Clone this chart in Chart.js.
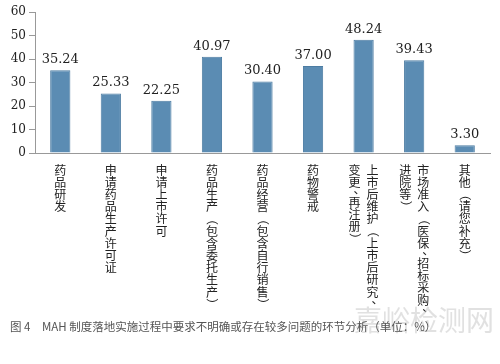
<!DOCTYPE html>
<html>
<head>
<meta charset="utf-8">
<script src="https://cdn.jsdelivr.net/npm/chart.js@4/dist/chart.umd.min.js"></script>
<style>
  html, body { margin: 0; padding: 0; background: #fff; }
  #wrap { width: 500px; height: 364px; position: relative; }
</style>
</head>
<body>
<div id="wrap"><canvas id="chartMah"></canvas></div>
<script>
// categories (each label is one or more vertical columns, read right to left)
var categories = [
  '药品研发',
  '申请药品生产许可证',
  '申请上市许可',
  '药品生产（包含委托生产）',
  '药品经营（包含自行销售）',
  '药物警戒',
  '上市后维护（上市后研究、变更、再注册）',
  '市场准入（医保、招标采购、进院等）',
  '其他（请您补充）'
];
var labelColumns = [
  ['药品研发'],
  ['申请药品生产许可证'],
  ['申请上市许可'],
  ['药品生产（包含委托生产）'],
  ['药品经营（包含自行销售）'],
  ['药物警戒'],
  ['上市后维护（上市后研究、', '变更、再注册）'],
  ['市场准入（医保、招标采购、', '进院等）'],
  ['其他（请您补充）']
];
var values = [35.24, 25.33, 22.25, 40.97, 30.40, 37.00, 48.24, 39.43, 3.30];
var yTicks = [0, 10, 20, 30, 40, 50, 60];
var caption = '图 4　MAH 制度落地实施过程中要求不明确或存在较多问题的环节分析（单位：%）';
var watermark = '嘉峪检测网';

var cjkFont = '"Noto Sans CJK SC", "Noto Sans", sans-serif';
var numFont = '"DejaVu Serif", "Liberation Serif", serif';

var extras = {
  id: 'extras',
  afterDatasetsDraw: function (chart) {
    var ctx = chart.ctx;
    var xs = chart.scales.x;
    var ys = chart.scales.y;
    ctx.save();

    // value labels above bars
    ctx.fillStyle = '#222';
    ctx.font = '13px ' + numFont;
    ctx.textAlign = 'center';
    ctx.textBaseline = 'bottom';
    values.forEach(function (v, i) {
      ctx.fillText(v.toFixed(2), xs.getPixelForValue(i), ys.getPixelForValue(v) - 4);
    });

    // vertical category labels
    ctx.font = '12px ' + cjkFont;
    ctx.fillStyle = '#222';
    ctx.textBaseline = 'middle';
    var pitch = 12.2, small = 8, colGap = 18, top = ys.bottom + 11;
    labelColumns.forEach(function (cols, i) {
      var cx = xs.getPixelForValue(i);
      var n = cols.length;
      cols.forEach(function (col, j) {
        var x = cx + ((n - 1) / 2 - j) * colGap;
        var y = top;
        var prev = 0;
        Array.from(col).forEach(function (ch) {
          var isBr = (ch === '（' || ch === '）');
          var isComma = (ch === '、');
          var adv = isComma ? small : pitch;
          y += (prev + adv) / 2;
          prev = adv;
          if (isBr) {
            ctx.save();
            ctx.translate(x, y);
            ctx.rotate(Math.PI / 2);
            ctx.fillText(ch, 0, 0);
            ctx.restore();
          } else if (isComma) {
            ctx.fillText(ch, x + 5, y - 3);
          } else {
            ctx.fillText(ch, x, y);
          }
        });
      });
    });

    // watermark
    ctx.textAlign = 'left';
    ctx.font = '28px ' + cjkFont;
    ctx.fillStyle = 'rgba(195,195,195,0.5)';
    ctx.fillText(watermark, 354, 320);

    // caption
    ctx.font = '11.5px ' + cjkFont;
    ctx.fillStyle = '#555';
    ctx.fillText(caption, 10, 327);
    ctx.restore();
  }
};

new Chart(document.getElementById('chartMah').getContext('2d'), {
  type: 'bar',
  data: {
    labels: categories,
    datasets: [{
      data: values,
      backgroundColor: '#5b8cb3',
      borderColor: '#4c7ca2',
      borderWidth: 1,
      categoryPercentage: 1,
      barPercentage: 0.4
    }]
  },
  options: {
    responsive: true,
    maintainAspectRatio: false,
    animation: false,
    layout: { padding: { top: 12, right: 10, left: 0, bottom: 0 } },
    plugins: {
      legend: { display: false },
      tooltip: { enabled: false }
    },
    scales: {
      x: {
        grid: { display: false },
        border: { color: '#999', width: 1 },
        ticks: { display: false },
        afterFit: function (s) { s.height = 211; }
      },
      y: {
        min: 0,
        max: 60,
        afterBuildTicks: function (s) { s.ticks = yTicks.map(function (v) { return { value: v }; }); },
        grid: { drawOnChartArea: false, color: '#999', tickLength: 6 },
        border: { color: '#999', width: 1 },
        ticks: { color: '#222', padding: 3, font: { family: numFont, size: 12 } },
        afterFit: function (s) { s.width = 35; }
      }
    }
  },
  plugins: [extras]
});
</script>
</body>
</html>
